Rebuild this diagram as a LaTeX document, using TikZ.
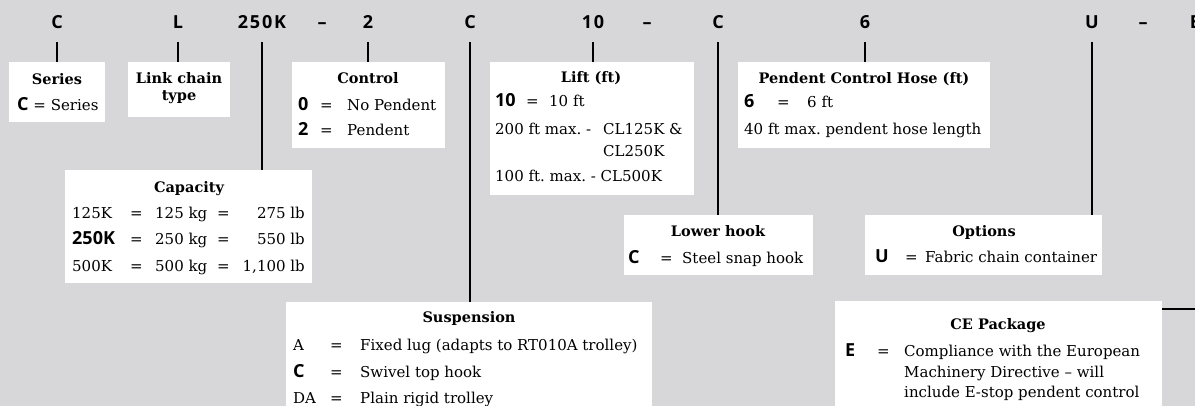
\documentclass[tikz,border=0pt]{standalone}
\usepackage{fontspec}
\setmainfont{DejaVu Serif}
\newfontfamily\codefont{Open Sans}
\newfontfamily\topfont[LetterSpace=10]{Open Sans}
\definecolor{panel}{RGB}{215,215,217}
\newcommand\bodyf{\fontsize{15}{18}\selectfont}
\newcommand\ttlf{\fontsize{14.5}{17}\selectfont\bfseries}
\newcommand\cdf{\codefont\bfseries\fontsize{18}{20}\selectfont}
\newcommand\topf{\topfont\bfseries\fontsize{18}{20}\selectfont}
\frenchspacing

\begin{document}
\begin{tikzpicture}[x=1pt,y=-1pt,
  box/.style={fill=white,inner sep=0,outer sep=0,anchor=north west},
  ttl/.style={font=\ttlf,anchor=base,inner sep=0},
  txt/.style={font=\bodyf,anchor=base west,inner sep=0},
  txr/.style={font=\bodyf,anchor=base east,inner sep=0},
  cd/.style={font=\cdf,anchor=base west,inner sep=0},
  top/.style={font=\topf,anchor=base,inner sep=0,outer ysep=13pt},
  lnk/.style={line width=1.3pt}]
\useasboundingbox (0,0) rectangle (1195,406);
\fill[panel] (0,0) rectangle (1195,406);

\node[top] (tC) at (57,29) {C};
\node[top] (tL) at (178,29) {L};
\node[top] (tCap) at (262,29) {250K};
\node[top] (tD1) at (322,29) {–};
\node[top] (tCtl) at (368,29) {2};
\node[top] (tSus) at (470,29) {C};
\node[top] (tLift) at (593,29) {10};
\node[top] (tD2) at (647,29) {–};
\node[top] (tHook) at (718,29) {C};
\node[top] (tHose) at (865,29) {6};
\node[top] (tOpt) at (1092,29) {U};
\node[top] (tD3) at (1143,29) {–};
\node[top] (tCE) at (1195,29) {E};

\node[box,minimum width=96pt,minimum height=60pt] (series) at (9,62) {};
\node[ttl] (seriesT) at (57,85) {Series};
\node[txt] (seriesA) at (17,111) {{\cdf C} = Series};

\node[box,minimum width=102pt,minimum height=55pt] (link) at (128,62) {};
\node[ttl] (linkT) at (179,84) {Link chain};
\node[ttl] (linkU) at (179,101) {type};

\node[box,minimum width=153pt,minimum height=86pt] (ctl) at (292,62) {};
\node[ttl] (ctlT) at (368,84) {Control};
\node[cd] (ctlA) at (298,111) {0};
\node[txt] (ctlAe) at (320,111) {=};
\node[txt] (ctlAt) at (347,111) {No Pendent};
\node[cd] (ctlB) at (298,136) {2};
\node[txt] (ctlBe) at (320,136) {=};
\node[txt] (ctlBt) at (347,136) {Pendent};

\node[box,minimum width=204pt,minimum height=133pt] (lift) at (490,62) {};
\node[ttl] (liftT) at (591,83) {Lift (ft)};
\node[cd] (liftA) at (495,107) {10};
\node[txt] (liftAe) at (526,107) {=};
\node[txt] (liftAt) at (549,107) {10 ft};
\node[txt] (liftB) at (495,135) {200 ft max. -};
\node[txt] (liftBt) at (603,135) {CL125K \&};
\node[txt] (liftC) at (603,157) {CL250K};
\node[txt] (liftD) at (495,182) {100 ft. max. - CL500K};

\node[box,minimum width=252pt,minimum height=86pt] (hose) at (738,62) {};
\node[ttl] (hoseT) at (864,84) {Pendent Control Hose (ft)};
\node[cd] (hoseA) at (744,108) {6};
\node[txt] (hoseAe) at (777,108) {=};
\node[txt] (hoseAt) at (807,108) {6 ft};
\node[txt] (hoseB) at (744,135) {40 ft max. pendent hose length};

\node[box,minimum width=247pt,minimum height=113pt] (cap) at (65,170) {};
\node[ttl] (capT) at (189,193) {Capacity};
\node[txt] (capA) at (72,219) {125K};
\node[cd] (capB) at (72,245) {250K};
\node[txt] (capC) at (72,272) {500K};
\foreach \y/\kg/\lb [count=\i] in {219/125/275,245/250/550,272/500/{1,100}} {
  \node[txt] (capE\i) at (130,\y) {=};
  \node[txt] (capK\i) at (155,\y) {\kg{} kg};
  \node[txt] (capF\i) at (217,\y) {=};
  \node[txr] (capL\i) at (305,\y) {\lb{} lb};
}

\node[box,minimum width=189pt,minimum height=60pt] (hook) at (624,215) {};
\node[ttl] (hookT) at (718,237) {Lower hook};
\node[cd] (hookA) at (628,264) {C};
\node[txt] (hookAe) at (660,264) {=};
\node[txt] (hookAt) at (682,264) {Steel snap hook};

\node[box,minimum width=237pt,minimum height=60pt] (opt) at (865,215) {};
\node[ttl] (optT) at (984,237) {Options};
\node[cd] (optA) at (875,263) {U};
\node[txt] (optAe) at (905,263) {=};
\node[txt] (optAt) at (925,263) {Fabric chain container};

\node[box,minimum width=366pt,minimum height=120pt] (sus) at (286,302) {};
\node[ttl] (susT) at (469,323) {Suspension};
\node[txt] (susA) at (293,350) {A};
\node[cd] (susB) at (293,377) {C};
\node[txt] (susC) at (293,403) {DA};
\node[txt] (susAe) at (330,350) {=};
\node[txt] (susBe) at (330,377) {=};
\node[txt] (susCe) at (330,403) {=};
\node[txt] (susAt) at (360,350) {Fixed lug (adapts to RT010A trolley)};
\node[txt] (susBt) at (360,377) {Swivel top hook};
\node[txt] (susCt) at (360,403) {Plain rigid trolley};

\node[box,minimum width=327pt,minimum height=120pt] (ce) at (835,301) {};
\node[ttl] (ceT) at (998,330) {CE Package};
\node[cd] (ceA) at (845,356) {E};
\node[txt] (ceAe) at (877,356) {=};
\node[txt] (ceAt) at (904,356) {Compliance with the European};
\node[txt] (ceBt) at (904,377) {Machinery Directive – will};
\node[txt] (ceCt) at (904,397) {include E-stop pendent control};

\draw[lnk] (tC.south) -- (tC.south |- series.north);
\draw[lnk] (tL.south) -- (tL.south |- link.north);
\draw[lnk] (tCap.south) -- (tCap.south |- cap.north);
\draw[lnk] (tCtl.south) -- (tCtl.south |- ctl.north);
\draw[lnk] (tSus.south) -- (tSus.south |- sus.north);
\draw[lnk] (tLift.south) -- (tLift.south |- lift.north);
\draw[lnk] (tHook.south) -- (tHook.south |- hook.north);
\draw[lnk] (tHose.south) -- (tHose.south |- hose.north);
\draw[lnk] (tOpt.south) -- (tOpt.south |- opt.north);
\draw[lnk] ([xshift=3pt]tCE.south) |- ([yshift=-8pt]ce.north east);
\end{tikzpicture}
\end{document}
